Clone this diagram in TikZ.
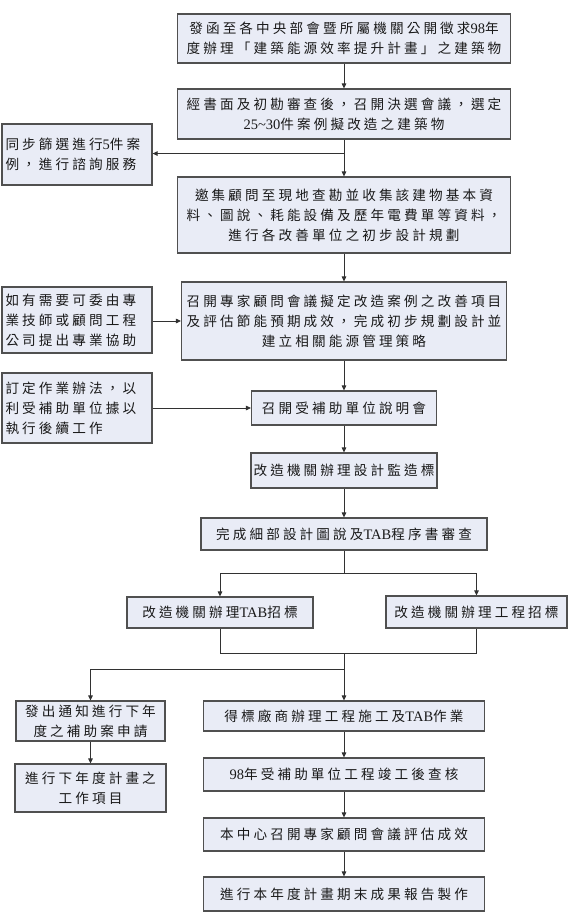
\documentclass[tikz,border=0pt]{standalone}
\usepackage{fontspec}
\setmainfont{Liberation Serif}
\newfontfamily\cjk[LetterSpace=23]{Noto Sans CJK TC}
\newfontfamily\lat{Liberation Serif}
\usetikzlibrary{arrows.meta}
\definecolor{boxfill}{RGB}{233,236,246}
\definecolor{boxline}{RGB}{80,80,80}
\definecolor{conn}{RGB}{50,50,50}
\definecolor{txt}{RGB}{25,25,25}
\tikzset{
  box/.style={draw=boxline, line width=1.1pt, fill=boxfill, inner sep=0pt,
    align=center, text=txt, font=\cjk\fontsize{13.6}{20}\selectfont},
  sidel/.style={box, align=left, text width=143pt, inner xsep=3.5pt},
  link/.style={draw=conn, line width=0.9pt},
  arr/.style={link, -{Triangle[length=5pt,width=4.5pt]}},
}
\newcommand{\lt}[1]{{\lat\fontsize{14.5}{20}\selectfont #1}}
\begin{document}
\begin{tikzpicture}[x=1pt,y=-1pt]
\useasboundingbox[fill=white] (0,0) rectangle (568,919);
% main column
\node[box, minimum width=333, minimum height=49] (b1) at (344,38.5)
  {發函至各中央部會暨所屬機關公開徵求\lt{98}年\\度辦理「建築能源效率提升計畫」之建築物};
\node[box, minimum width=333, minimum height=50] (b2) at (344,114)
  {經書面及初勘審查後，召開決選會議，選定\\\lt{25\textasciitilde 30}件案例擬改造之建築物};
\node[box, minimum width=333, minimum height=76] (b3) at (344,215)
  {邀集顧問至現地查勘並收集該建物基本資\\料、圖說、耗能設備及歷年電費單等資料，\\進行各改善單位之初步設計規劃};
\node[box, minimum width=325, minimum height=78] (b4) at (344,321)
  {召開專家顧問會議擬定改造案例之改善項目\\及評估節能預期成效，完成初步規劃設計並\\建立相關能源管理策略};
\node[box, minimum width=185, minimum height=34] (b5) at (344,408)
  {召開受補助單位說明會};
\node[box, minimum width=186, minimum height=35] (b6) at (344,470.5)
  {改造機關辦理設計監造標};
\node[box, minimum width=286, minimum height=32] (b7) at (344,534)
  {完成細部設計圖說及\lt{TAB}程序書審查};
\node[box, minimum width=186, minimum height=31] (b8) at (220,612.5)
  {改造機關辦理\lt{TAB}招標};
\node[box, minimum width=181, minimum height=32] (b9) at (476.5,612)
  {改造機關辦理工程招標};
\node[box, minimum width=281, minimum height=30] (b10) at (344,716)
  {得標廠商辦理工程施工及\lt{TAB}作業};
\node[box, minimum width=281, minimum height=33] (b11) at (344,774.5)
  {\lt{98}年受補助單位工程竣工後查核};
\node[box, minimum width=281, minimum height=33] (b12) at (344,834.5)
  {本中心召開專家顧問會議評估成效};
\node[box, minimum width=281, minimum height=34] (b13) at (344,894)
  {進行本年度計畫期末成果報告製作};
% side boxes
\node[sidel, minimum height=61] (s1) at (77,154.5)
  {同步篩選進行\lt{5}件案\\例，進行諮詢服務};
\node[sidel, minimum height=66] (s2) at (77,320)
  {如有需要可委由專\\業技師或顧問工程\\公司提出專業協助};
\node[sidel, minimum height=70] (s3) at (77,408)
  {訂定作業辦法，以\\利受補助單位據以\\執行後續工作};
\node[box, minimum width=149, minimum height=40] (s4) at (90.5,721)
  {發出通知進行下年\\度之補助案申請};
\node[box, minimum width=151, minimum height=48] (s5) at (90.5,788)
  {進行下年度計畫之\\工作項目};
% connectors
\draw[arr] (b1.south) -- (b2.north);
\draw[arr] (b2.south) -- (b3.north);
\path (b2.south) ++(0,14) coordinate (j1);
\draw[arr] (j1) -- (j1 -| s1.east);
\draw[arr] (b3.south) -- (b4.north);
\draw[arr] (b4.west -| s2.east) -- (b4.west);
\draw[arr] (b4.south) -- (b5.north);
\draw[arr] (s3.east) -- (b5.west);
\draw[arr] (b5.south) -- (b6.north);
\draw[arr] (b6.south) -- (b7.north);
\path (b7.south) ++(0,23) coordinate (j2);
\draw[link] (b7.south) -- (j2);
\draw[arr] (j2) -| (b8.north);
\draw[arr] (j2) -| (b9.north);
\path (j2) ++(0,80) coordinate (j3);
\draw[link] (b8.south) |- (j3) -| (b9.south);
\draw[arr] (j3) -- (b10.north);
\path (j3) ++(0,16) coordinate (j4);
\draw[arr] (j4) -| (s4.north);
\draw[arr] (s4.south) -- (s5.north);
\draw[arr] (b10.south) -- (b11.north);
\draw[arr] (b11.south) -- (b12.north);
\draw[arr] (b12.south) -- (b13.north);
\end{tikzpicture}
\end{document}
